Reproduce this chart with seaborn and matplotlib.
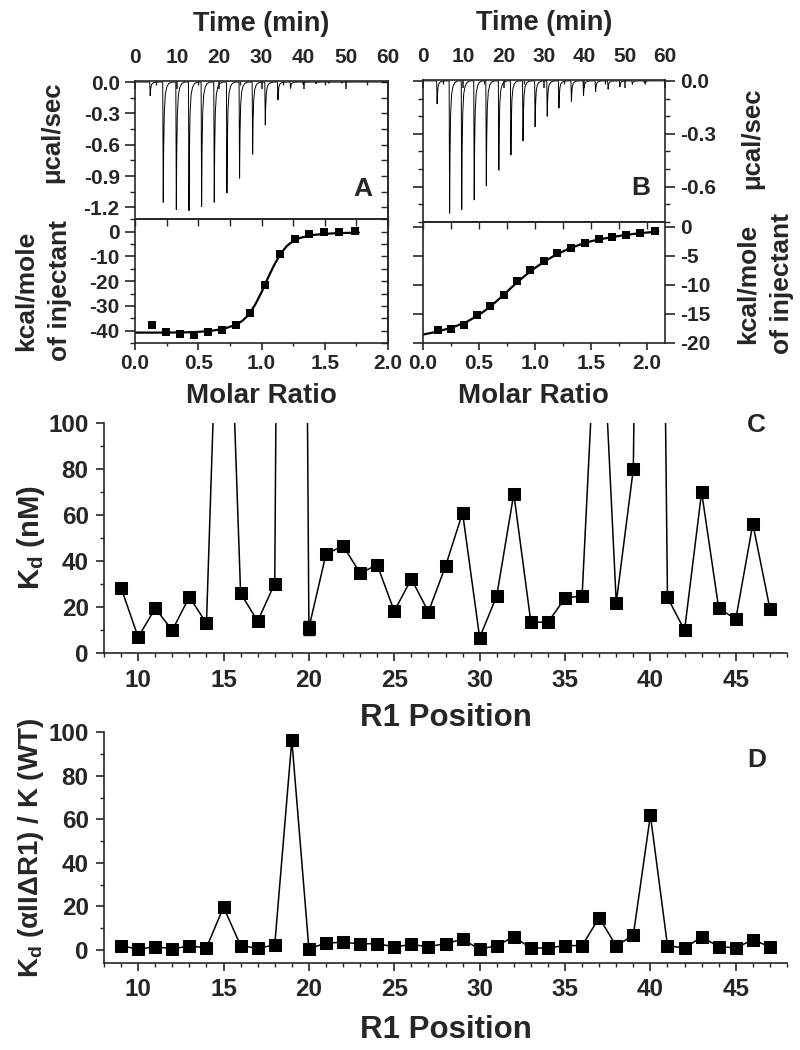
import matplotlib
matplotlib.use("Agg")
import matplotlib.pyplot as plt
from matplotlib.ticker import MultipleLocator, FormatStrFormatter
import seaborn as sns

# ---- panel A / B : raw ITC heats (injection time, peak depth) ----
a_inj_time = [3.6, 6.7, 9.8, 12.8, 15.8, 18.8, 21.8, 24.8, 27.9, 30.9,
              33.9, 36.9, 39.9, 42.9, 45.9, 49.0]
a_inj_peak = [-0.13, -1.15, -1.22, -1.23, -1.19, -1.15, -1.06, -0.92, -0.69, -0.41,
              -0.17, -0.06, -0.025, -0.015, -0.01, -0.01]

b_inj_time = [3.5, 6.6, 9.6, 12.7, 15.7, 18.8, 21.8, 24.8, 27.8, 30.8,
              33.7, 36.8, 39.8, 42.8, 45.9, 48.8, 51.9, 54.9]
b_inj_peak = [-0.13, -0.75, -0.73, -0.675, -0.595, -0.506, -0.42, -0.34, -0.26, -0.20,
              -0.154, -0.116, -0.084, -0.06, -0.047, -0.034, -0.019, -0.012]

# shape of one injection spike (time offset, fraction of depth)
spike_dt = [-0.12, 0.0, 0.1, 0.25, 0.5, 0.85, 1.3, 2.0]
spike_frac = [0.0, 1.0, 0.55, 0.25, 0.1, 0.04, 0.012, 0.0]

# ---- integrated heats + fits ----
a_ratio = [0.137, 0.243, 0.356, 0.464, 0.575, 0.688, 0.80, 0.913, 1.029, 1.146,
           1.262, 1.378, 1.497, 1.615, 1.737]
a_heat = [-37.7, -40.7, -41.3, -41.6, -40.7, -39.6, -37.6, -32.7, -21.7, -9.1,
          -3.1, -1.1, -0.3, 0.0, 0.2]
a_fit_x = [0.0, 0.2, 0.4, 0.5, 0.6, 0.7, 0.8, 0.85, 0.9, 0.95, 1.0, 1.05,
           1.1, 1.15, 1.2, 1.25, 1.3, 1.4, 1.5, 1.6, 1.77]
a_fit_y = [-40.8, -40.8, -40.7, -40.5, -40.1, -39.3, -37.6, -36.0, -33.5, -29.5, -24.5, -18.8,
           -13.5, -9.0, -5.8, -3.8, -2.6, -1.4, -0.9, -0.6, -0.4]

b_ratio = [0.133, 0.252, 0.365, 0.484, 0.602, 0.721, 0.84, 0.958, 1.08, 1.20,
           1.32, 1.445, 1.567, 1.69, 1.816, 1.94, 2.07]
b_heat = [-17.8, -17.7, -16.9, -15.3, -13.6, -11.7, -9.4, -7.5, -5.9, -4.6,
          -3.6, -2.75, -2.2, -1.8, -1.4, -1.15, -0.8]
b_fit_x = [0.0, 0.1, 0.2, 0.3, 0.4, 0.5, 0.6, 0.7, 0.8, 0.9, 1.0, 1.1,
           1.2, 1.3, 1.4, 1.5, 1.6, 1.7, 1.8, 1.9, 2.0, 2.1]
b_fit_y = [-18.6, -18.2, -17.7, -17.1, -16.3, -15.2, -13.8, -12.1, -10.3, -8.6, -7.1, -5.8,
           -4.7, -3.8, -3.1, -2.5, -2.1, -1.75, -1.45, -1.2, -1.0, -0.85]

# ---- panel C / D : R1 scan ----
r1_pos = list(range(9, 48))
kd_nm = [28.5, 7.0, 19.5, 10.0, 24.5, 13.0, 240.0, 26.0, 14.0, 30.3,
         1100.0, 11.0, 43.0, 46.7, 34.8, 38.4, 18.3, 32.3, 18.0, 37.8,
         61.0, 6.8, 24.9, 69.3, 13.5, 13.5, 23.9, 25.0, 175.0, 22.0,
         80.0, 700.0, 24.3, 10.0, 70.0, 19.6, 14.8, 56.2, 19.3]
kd_err_pos = [20]
kd_err = [3.0]
kd_ratio = [2.0, 0.3, 1.5, 0.5, 1.8, 1.0, 19.7, 2.0, 0.8, 2.3,
            96.5, 0.5, 3.2, 3.5, 2.8, 2.9, 1.4, 2.5, 1.5, 2.9,
            4.9, 0.3, 2.0, 6.0, 0.9, 0.9, 2.0, 2.0, 14.8, 1.8,
            6.8, 61.9, 2.0, 0.8, 6.0, 1.5, 1.0, 4.6, 1.5]

sns.set_style("ticks")
plt.rcParams["font.family"] = ["Liberation Sans", "DejaVu Sans"]
plt.rcParams["font.weight"] = "bold"
plt.rcParams["axes.labelweight"] = "bold"
plt.rcParams["axes.unicode_minus"] = False
plt.rcParams["mathtext.fontset"] = "custom"
plt.rcParams["mathtext.rm"] = "Liberation Sans:bold"
plt.rcParams["mathtext.it"] = "Liberation Sans:bold"
plt.rcParams["mathtext.bf"] = "Liberation Sans:bold"
plt.rcParams["axes.linewidth"] = 1.2


def build_trace(times, peaks):
    t, y = [0.0], [0.0]
    for t0, p in zip(times, peaks):
        for dt, f in zip(spike_dt, spike_frac):
            t.append(t0 + dt)
            y.append(p * f)
    t.append(60.0)
    y.append(0.0)
    return t, y


def style_ticks(ax, axis, major, minor, direction, size=15, length=7, pad=4):
    loc = ax.xaxis if axis == "x" else ax.yaxis
    loc.set_major_locator(MultipleLocator(major))
    if minor:
        loc.set_minor_locator(MultipleLocator(minor))
    ax.tick_params(axis=axis, which="major", direction=direction, length=length,
                   width=1.2, labelsize=size, pad=pad)
    ax.tick_params(axis=axis, which="minor", direction=direction, length=length / 2,
                   width=1.0)


fig = plt.figure(figsize=(8, 10.5), dpi=100)

ax_at = fig.add_axes([0.16875, 0.79143, 0.31625, 0.13143])
ax_ab = fig.add_axes([0.16875, 0.67333, 0.31625, 0.11810])
ax_bt = fig.add_axes([0.52875, 0.78857, 0.30250, 0.13524])
ax_bb = fig.add_axes([0.52875, 0.67333, 0.30250, 0.11524])
ax_c = fig.add_axes([0.13, 0.37781, 0.85375, 0.21933])
ax_d = fig.add_axes([0.13, 0.08286, 0.85375, 0.21971])

# ---------- thermograms ----------
for ax, times, peaks, ylim, ymaj, ymin, side in [
        (ax_at, a_inj_time, a_inj_peak, (-1.31, 0.01), 0.3, 0.15, "left"),
        (ax_bt, b_inj_time, b_inj_peak, (-0.80, 0.005), 0.3, 0.1, "right")]:
    t, y = build_trace(times, peaks)
    sns.lineplot(x=t, y=y, ax=ax, color="black", linewidth=0.7,
                 sort=False, estimator=None)
    ax.set_xlim(0, 60)
    ax.set_ylim(*ylim)
    style_ticks(ax, "x", 10, 5, "in", length=6, pad=10)
    ax.tick_params(axis="x", which="both", bottom=False, labelbottom=False,
                   top=True, labeltop=True)
    style_ticks(ax, "y", ymaj, ymin, "out")
    ax.yaxis.set_major_formatter(FormatStrFormatter("%.1f"))
    ax.set_xlabel("Time (min)", fontsize=19.5, labelpad=12)
    ax.xaxis.set_label_position("top")
    ax.set_ylabel("μcal/sec", fontsize=18.5)
    if side == "left":
        ax.tick_params(axis="y", which="both", left=True, right=False)
        sec = ax.secondary_yaxis("right")
        sec.yaxis.set_major_locator(MultipleLocator(ymin))
        sec.tick_params(direction="in", length=5, width=1.0, labelright=False)
        ax.yaxis.set_label_coords(-0.28, 0.63)
    else:
        ax.tick_params(axis="y", which="both", left=True, right=True,
                       labelleft=False, labelright=True)
        ax.yaxis.set_label_position("right")
        ax.yaxis.set_label_coords(1.31, 0.59)

ax_at.text(0.94, 0.22, "A", transform=ax_at.transAxes, fontsize=19,
           fontweight="bold", ha="right", va="center")
ax_bt.text(0.94, 0.24, "B", transform=ax_bt.transAxes, fontsize=19,
           fontweight="bold", ha="right", va="center")

# ---------- binding isotherms ----------
for ax, xr, yh, fx, fy, xlim, ylim, ymaj, ymin, side in [
        (ax_ab, a_ratio, a_heat, a_fit_x, a_fit_y, (0, 2.0), (-45, 5.1), 10, 5, "left"),
        (ax_bb, b_ratio, b_heat, b_fit_x, b_fit_y, (0, 2.16), (-20.05, 0.81), 5, None, "right")]:
    sns.lineplot(x=fx, y=fy, ax=ax, color="black", linewidth=1.6,
                 sort=False, estimator=None)
    sns.scatterplot(x=xr, y=yh, ax=ax, marker="s", s=34, color="black",
                    edgecolor="black", linewidth=0, zorder=3)
    ax.set_xlim(*xlim)
    ax.set_ylim(*ylim)
    style_ticks(ax, "x", 0.5, 0.25, "out", length=5, pad=3)
    ax.xaxis.set_major_formatter(FormatStrFormatter("%.1f"))
    style_ticks(ax, "y", ymaj, ymin, "out")
    sec = ax.secondary_xaxis("top")
    sec.xaxis.set_major_locator(MultipleLocator(0.25))
    sec.tick_params(direction="in", length=5, width=1.0, labeltop=False)
    ax.set_xlabel("Molar Ratio", fontsize=20)
    ax.set_ylabel("kcal/mole\nof injectant", fontsize=19, linespacing=1.55)
    if side == "left":
        sec_y = ax.secondary_yaxis("right")
        sec_y.yaxis.set_major_locator(MultipleLocator(ymin))
        sec_y.tick_params(direction="in", length=5, width=1.0, labelright=False)
        ax.yaxis.set_label_coords(-0.25, 0.42)
        ax.xaxis.set_label_coords(0.5, -0.32)
    else:
        ax.tick_params(axis="y", which="both", left=True, right=True,
                       labelleft=False, labelright=True)
        ax.yaxis.set_label_position("right")
        ax.yaxis.set_label_coords(1.29, 0.49)
        ax.xaxis.set_label_coords(0.455, -0.33)

# ---------- panel C ----------
sns.lineplot(x=r1_pos, y=kd_nm, ax=ax_c, color="black", linewidth=1.1,
             marker="s", markersize=8, markeredgecolor="black",
             sort=False, estimator=None)
ax_c.errorbar(kd_err_pos, [kd_nm[r1_pos.index(p)] for p in kd_err_pos], yerr=kd_err,
              fmt="none", ecolor="black", capsize=4, elinewidth=1.0)
ax_c.set_xlim(8, 48)
ax_c.set_ylim(0, 100)
ax_c.set_ylabel(r"K$_\mathrm{d}$ (nM)", fontsize=21, labelpad=1)
ax_c.set_xlabel("R1 Position", fontsize=22.5, labelpad=8)
ax_c.text(0.955, 0.99, "C", transform=ax_c.transAxes, fontsize=19,
          fontweight="bold", ha="center", va="center")

# ---------- panel D ----------
sns.lineplot(x=r1_pos, y=kd_ratio, ax=ax_d, color="black", linewidth=1.1,
             marker="s", markersize=8, markeredgecolor="black",
             sort=False, estimator=None)
ax_d.set_xlim(8, 48)
ax_d.set_ylim(-6, 100)
ax_d.set_ylabel(r"K$_\mathrm{d}$ (αIIΔR1) / K (WT)", fontsize=20, labelpad=2)
ax_d.set_xlabel("R1 Position", fontsize=22.5, labelpad=10)
ax_d.text(0.955, 0.88, "D", transform=ax_d.transAxes, fontsize=19,
          fontweight="bold", ha="center", va="center")

for ax in (ax_c, ax_d):
    sns.despine(ax=ax)
    ax.xaxis.set_major_locator(MultipleLocator(5))
    ax.xaxis.set_minor_locator(MultipleLocator(1))
    ax.yaxis.set_major_locator(MultipleLocator(20))
    ax.yaxis.set_minor_locator(MultipleLocator(10))
    ax.tick_params(which="major", direction="out", length=6, width=1.2,
                   labelsize=17.5, pad=5)
    ax.tick_params(which="minor", direction="out", length=3, width=1.0)

ax_c.spines["left"].set_bounds(0, 100)
ax_d.spines["left"].set_bounds(-6, 100)

fig.savefig("out.png", dpi=100)
